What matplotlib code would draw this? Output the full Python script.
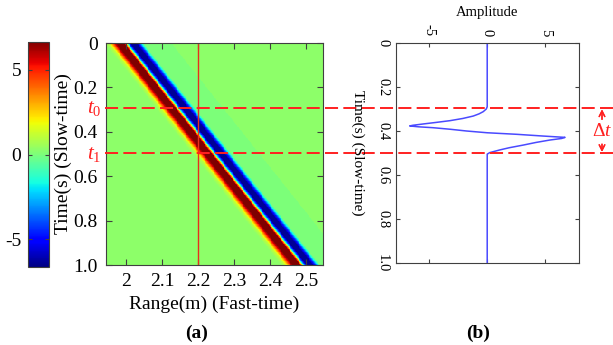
import numpy as np
import matplotlib
matplotlib.use("Agg")
import matplotlib.pyplot as plt
from matplotlib.transforms import blended_transform_factory
from matplotlib.lines import Line2D

plt.rcParams['font.family'] = ['Liberation Serif', 'DejaVu Serif']
plt.rcParams['mathtext.fontset'] = 'custom'
plt.rcParams['mathtext.rm'] = 'Liberation Serif'
plt.rcParams['mathtext.it'] = 'Liberation Serif:italic'
plt.rcParams['lines.scale_dashes'] = False
plt.rcParams['axes.unicode_minus'] = False

# --- panel (a): moving pulse in range / slow-time ---
range_lim = (1.945, 2.546)
range_ticks = [2.0, 2.1, 2.2, 2.3, 2.4, 2.5]
range_ticklabels = ['2', '2.1', '2.2', '2.3', '2.4', '2.5']
time_ticks = [0, 0.2, 0.4, 0.6, 0.8, 1.0]
time_ticklabels = ['0', '0.2', '0.4', '0.6', '0.8', '1.0']
stripe_start = 2.0   # zero crossing of the stripe at t = 0
stripe_end = 2.49    # zero crossing at t = 1
# amplitude across the stripe, offset (m) from its zero crossing
profile_offset = [-0.060, -0.048, -0.040, -0.032, -0.025, -0.008, -0.002, 0.002,
                  0.007, 0.012, 0.028, 0.036, 0.042, 0.048, 0.125, 0.127]
profile_value = [0.0, 0.8, 3.0, 5.5, 6.7, 6.7, 3.0, -1.5,
                 -4.5, -6.7, -6.7, -4.5, -2.0, -0.3, -0.3, 0.0]
background = 0.3
probe_range = 2.2
clim = 6.67
cbar_ticks = [-5, 0, 5]

# --- panel (b): trace at the probe range ---
trace_t = [0.0, 0.29, 0.30, 0.312, 0.322, 0.332, 0.343, 0.353, 0.361, 0.368,
           0.374, 0.377, 0.381, 0.385, 0.392, 0.40, 0.408, 0.415, 0.423, 0.429,
           0.434, 0.441, 0.452, 0.464, 0.476, 0.486, 0.498, 0.505, 1.0]
trace_amp = [0.0, 0.0, -0.08, -0.34, -0.7, -1.2, -2.1, -3.2, -4.4, -5.5,
             -6.4, -6.67, -5.9, -4.66, -3.2, -1.78, 0.0, 2.53, 4.83, 6.7,
             6.4, 5.4, 4.2, 3.1, 1.9, 1.09, 0.23, 0.0, 0.0]
amp_lim = (-7.85, 7.9)
amp_ticks = [-5, 0, 5]
amp_ticklabels = ['-5', '0', '5']
t0, t1 = 0.297, 0.5

W, H = 613, 345
fig = plt.figure(figsize=(W / 100, H / 100), dpi=100)
spine_col = '#404040'
red = '#ff2020'

def px_axes(x0, y0, x1, y1):
    return fig.add_axes([x0 / W, 1 - y1 / H, (x1 - x0) / W, (y1 - y0) / H])

ax_a = px_axes(106, 43, 323, 265)
cax = px_axes(28.3, 41.7, 49.3, 267.3)
ax_b = px_axes(396, 43, 579, 263)

# image field
rr = np.linspace(range_lim[0], range_lim[1], 240)
tt = np.linspace(0, 1, 300)
centre = stripe_start + (stripe_end - stripe_start) * tt[:, None]
field = background + np.interp(rr[None, :] - centre, profile_offset, profile_value,
                               left=0.0, right=0.0)
im = ax_a.imshow(field, extent=[range_lim[0], range_lim[1], 1, 0], aspect='auto',
                 cmap='jet', vmin=-clim, vmax=clim, interpolation='nearest')
ax_a.axvline(probe_range, color='#e8301c', lw=1.0)
ax_a.set_xlim(*range_lim)
ax_a.set_ylim(1, 0)
ax_a.set_xticks(range_ticks)
ax_a.set_xticklabels(range_ticklabels)
ax_a.set_yticks(time_ticks)
ax_a.set_yticklabels(time_ticklabels)
ax_a.tick_params(direction='in', top=True, right=True, length=4, labelsize=14,
                 color=spine_col, pad=6)
ax_a.set_xlabel('Range(m) (Fast-time)', fontsize=14, labelpad=4)
ax_a.set_ylabel('Time(s) (Slow-time)', fontsize=14)
ax_a.yaxis.set_label_coords(-0.157, 0.5)
for s in ax_a.spines.values():
    s.set_color(spine_col)

cb = fig.colorbar(im, cax=cax, ticks=cbar_ticks)
cax.yaxis.set_ticks_position('both')
cax.tick_params(direction='in', length=3, labelsize=14, labelleft=True,
                labelright=False, color=spine_col, pad=5)
cb.outline.set_edgecolor(spine_col)

# trace
ax_b.plot(trace_amp, trace_t, color='#4a4aff', lw=1.1)
ax_b.set_xlim(*amp_lim)
ax_b.set_ylim(1, 0)
ax_b.xaxis.set_ticks_position('both')
ax_b.xaxis.set_label_position('top')
ax_b.set_xticks(amp_ticks)
ax_b.set_xticklabels(amp_ticklabels, rotation=-90)
ax_b.set_yticks(time_ticks)
ax_b.set_yticklabels(time_ticklabels, rotation=-90, va='center')
ax_b.tick_params(direction='in', right=True, length=3, labelsize=10.5,
                 labeltop=True, labelbottom=False, color=spine_col, pad=5)
ax_b.set_xlabel('Amplitude', fontsize=10.5, labelpad=6)
fig.text(358 / W, 1 - 153 / H, 'Time(s) (Slow-time)', fontsize=11, rotation=-90,
         ha='center', va='center')
for s in ax_b.spines.values():
    s.set_color(spine_col)

# dashed t0 / t1 lines across both panels
tr = blended_transform_factory(fig.transFigure, ax_b.transData)
for tv in (t0, t1):
    fig.add_artist(Line2D([105 / W, 1.0], [tv, tv], transform=tr, color=red,
                          lw=1.4, dashes=(9.4, 3.8)))
ax_a.text(-0.02, t0, r'$t_0$', transform=ax_a.get_yaxis_transform(), color=red,
          fontsize=15, ha='right', va='center')
ax_a.text(-0.02, t1, r'$t_1$', transform=ax_a.get_yaxis_transform(), color=red,
          fontsize=15, ha='right', va='center')

# delta-t arrows
xa = 602 / W
arrow = dict(arrowstyle='->', color=red, lw=1.0, shrinkA=0, shrinkB=0)
fig.add_artist(plt.annotate('', xy=(xa, t0 + 0.005), xytext=(xa, t0 + 0.05),
                            xycoords=tr, textcoords=tr, arrowprops=arrow))
fig.add_artist(plt.annotate('', xy=(xa, t1 - 0.005), xytext=(xa, t1 - 0.04),
                            xycoords=tr, textcoords=tr, arrowprops=arrow))
fig.text(612 / W, 1 - 132 / H, r'$\Delta t$', color=red, fontsize=14,
         ha='right', va='center')

fig.text(197 / W, 1 - 333 / H, '(a)', fontsize=14, fontweight='bold',
         ha='center', va='center')
fig.text(478 / W, 1 - 333 / H, '(b)', fontsize=14, fontweight='bold',
         ha='center', va='center')

fig.savefig('out.png', dpi=100)
